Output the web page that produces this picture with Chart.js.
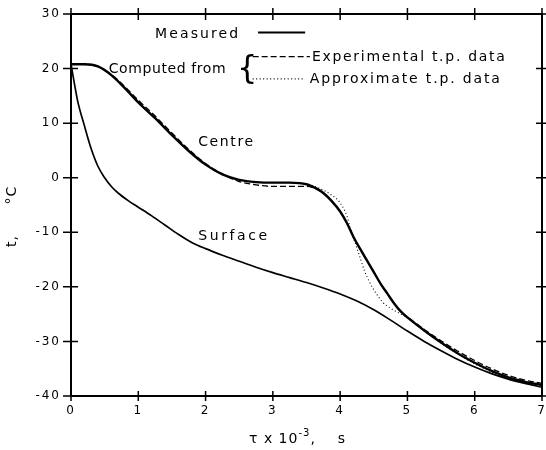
<!DOCTYPE html>
<html>
<head>
<meta charset="utf-8">
<script src="https://cdn.jsdelivr.net/npm/chart.js@4.4.1/dist/chart.umd.min.js"></script>
<style>
  body { margin: 0; background: #fff; }
  canvas { display: block; }
</style>
</head>
<body>
<canvas id="chart" width="546" height="450"></canvas>
<script>
// time in units of 10^3 s, temperature in degC
const timeSurface = [0, 0.05, 0.1, 0.2, 0.3, 0.4, 0.5, 0.6, 0.7, 0.85, 1.0, 1.2, 1.4, 1.6, 1.8, 2.0, 2.25, 2.5, 2.75, 3.0, 3.25, 3.5, 3.75, 4.0, 4.25, 4.5, 4.75, 5.0, 5.25, 5.5, 5.75, 6.0, 6.25, 6.5, 6.75, 7.0];
const tempSurface = [20.8, 17.3, 14.0, 9.5, 5.3, 2.1, 0.0, -1.6, -2.8, -4.2, -5.4, -7.0, -8.7, -10.4, -11.9, -13.0, -14.2, -15.3, -16.4, -17.4, -18.3, -19.2, -20.2, -21.3, -22.6, -24.2, -26.1, -28.1, -30.0, -31.7, -33.3, -34.7, -35.9, -36.9, -37.7, -38.4];

const timeCentre = [0, 0.2, 0.4, 0.6, 0.8, 1.0, 1.25, 1.5, 1.75, 2.0, 2.25, 2.5, 2.75, 3.0, 3.25, 3.5, 3.65, 3.75, 3.875, 4.0, 4.1, 4.2, 4.3, 4.4, 4.5, 4.6, 4.7, 4.8, 4.9, 5.0, 5.25, 5.5, 5.75, 6.0, 6.25, 6.5, 6.75, 7.0];
const tempCentre = [20.8, 20.8, 20.4, 18.8, 16.4, 13.8, 10.9, 7.8, 4.9, 2.4, 0.6, -0.4, -0.8, -0.9, -0.9, -1.2, -2.0, -2.8, -4.3, -6.2, -8.3, -10.9, -13.1, -15.2, -17.3, -19.4, -21.2, -23.0, -24.5, -25.6, -28.0, -30.2, -32.2, -33.9, -35.4, -36.6, -37.4, -38.0];

const timeExperimental = [0, 0.2, 0.4, 0.6, 0.8, 1.0, 1.25, 1.5, 1.75, 2.0, 2.25, 2.5, 2.75, 3.0, 3.25, 3.5, 3.65, 3.75, 3.875, 4.0, 4.1, 4.2, 4.3, 4.4, 4.5, 4.6, 4.7, 4.8, 4.9, 5.0, 5.25, 5.5, 5.75, 6.0, 6.25, 6.5, 6.75, 7.0];
const tempExperimental = [20.8, 20.8, 20.4, 18.9, 16.7, 14.2, 11.3, 8.2, 5.2, 2.6, 0.7, -0.7, -1.3, -1.6, -1.6, -1.6, -2.1, -2.8, -4.3, -6.2, -8.3, -10.9, -13.1, -15.2, -17.3, -19.4, -21.2, -23.0, -24.5, -25.5, -27.8, -29.9, -31.8, -33.5, -35.0, -36.2, -37.1, -37.7];

const timeApprox = [0, 0.2, 0.4, 0.6, 0.8, 1.0, 1.25, 1.5, 1.75, 2.0, 2.25, 2.5, 2.75, 3.0, 3.25, 3.5, 3.7, 3.85, 4.0, 4.1, 4.15, 4.22, 4.29, 4.36, 4.44, 4.54, 4.64, 4.76, 4.89, 5.0, 5.25, 5.5, 5.75, 6.0, 6.25, 6.5, 6.75, 7.0];
const tempApprox = [20.8, 20.8, 20.4, 18.8, 16.4, 13.8, 10.9, 7.8, 4.9, 2.4, 0.6, -0.4, -0.8, -0.9, -0.9, -1.1, -2.0, -3.0, -4.6, -7.0, -9.2, -11.8, -14.4, -17.0, -19.2, -21.3, -22.9, -24.0, -24.9, -25.7, -28.1, -30.3, -32.3, -34.1, -35.6, -36.8, -37.7, -38.3];

const xTicks = [0, 1, 2, 3, 4, 5, 6, 7];
const yTicks = [-40, -30, -20, -10, 0, 10, 20, 30];

// text inside the plot: [text, x, y, width in px]
const notes = [
    ['Measured', 1.25, 26.3, 83],
    ['Computed from', 0.56, 19.8, 117],
    ['Experimental t.p. data', 3.58, 22.1, 193],
    ['Approximate t.p. data', 3.55, 18.0, 190],
    ['Centre', 1.89, 6.4, 55],
    ['Surface', 1.89, -10.8, 69]
];
// legend line samples: [x from, x to, y, dash]
const keys = [
    [2.78, 3.48, 26.6, []],
    [2.70, 3.55, 22.2, [6, 3]],
    [2.70, 3.45, 18.1, [1, 2.5]]
];

function pts(xs, ys) {
    return xs.map(function(v, i) { return {x: v, y: ys[i]}; });
}

Chart.defaults.font.family = "'DejaVu Sans', sans-serif";
Chart.defaults.color = '#000';

const framePlugin = {
    id: 'frame',
    beforeDraw(chart) {
        chart.ctx.letterSpacing = '2px';
    },
    afterDraw(chart) {
        const ctx = chart.ctx;
        const a = chart.chartArea;
        const x = chart.scales.x;
        const y = chart.scales.y;
        ctx.save();
        ctx.letterSpacing = '0px';
        ctx.strokeStyle = '#000';
        ctx.fillStyle = '#000';
        ctx.setLineDash([]);

        // box
        ctx.lineWidth = 2;
        ctx.strokeRect(a.left, a.top, a.right - a.left, a.bottom - a.top);

        // tick marks crossing every side
        ctx.lineWidth = 1.5;
        ctx.beginPath();
        xTicks.forEach(function(v) {
            const px = x.getPixelForValue(v);
            ctx.moveTo(px, a.bottom - 5); ctx.lineTo(px, a.bottom + 5);
            ctx.moveTo(px, a.top - 6); ctx.lineTo(px, a.top + 6);
        });
        yTicks.forEach(function(v) {
            const py = y.getPixelForValue(v);
            ctx.moveTo(a.left - 8, py); ctx.lineTo(a.left + 7, py);
            ctx.moveTo(a.right - 6, py); ctx.lineTo(a.right + 6, py);
        });
        ctx.stroke();

        // legend samples
        keys.forEach(function(k) {
            ctx.beginPath();
            ctx.lineWidth = k[3].length ? 1.3 : 2;
            ctx.setLineDash(k[3]);
            ctx.moveTo(x.getPixelForValue(k[0]), y.getPixelForValue(k[2]));
            ctx.lineTo(x.getPixelForValue(k[1]), y.getPixelForValue(k[2]));
            ctx.stroke();
        });
        ctx.setLineDash([]);

        // notes, spread to their width in the figure
        ctx.font = "14px 'DejaVu Sans'";
        ctx.textBaseline = 'middle';
        ctx.textAlign = 'left';
        notes.forEach(function(n) {
            ctx.letterSpacing = '0px';
            const w = ctx.measureText(n[0]).width;
            const sp = (n[3] - w) / (n[0].length - 1);
            ctx.letterSpacing = sp.toFixed(2) + 'px';
            ctx.fillText(n[0], x.getPixelForValue(n[1]), y.getPixelForValue(n[2]));
        });

        // brace
        ctx.letterSpacing = '0px';
        ctx.font = "32px 'DejaVu Sans'";
        ctx.textAlign = 'center';
        ctx.fillText('{', x.getPixelForValue(2.62), y.getPixelForValue(19.8));

        // x axis title
        ctx.textBaseline = 'alphabetic';
        ctx.textAlign = 'left';
        ctx.letterSpacing = '1px';
        ctx.font = "14px 'DejaVu Sans'";
        let tx = 249;
        const base = 443;
        ctx.fillText('\u03c4 x 10', tx, base);
        tx += ctx.measureText('\u03c4 x 10').width;
        ctx.font = "10px 'DejaVu Sans'";
        ctx.fillText('-3', tx, base - 7);
        tx += ctx.measureText('-3').width;
        ctx.font = "14px 'DejaVu Sans'";
        ctx.fillText(',    s', tx, base);

        // y axis title, rotated
        ctx.translate(12, 0);
        ctx.rotate(-Math.PI / 2);
        ctx.textAlign = 'center';
        ctx.textBaseline = 'middle';
        ctx.fillText('t,', -241, 0);
        ctx.fillText('\u00b0C', -195, 0);
        ctx.restore();
    }
};

new Chart(document.getElementById('chart'), {
    type: 'line',
    data: {
        datasets: [
            {
                label: 'Centre, measured',
                data: pts(timeCentre, tempCentre),
                borderColor: '#000',
                borderWidth: 2.4
            },
            {
                label: 'Surface, measured',
                data: pts(timeSurface, tempSurface),
                borderColor: '#000',
                borderWidth: 1.7
            },
            {
                label: 'Experimental t.p. data',
                data: pts(timeExperimental, tempExperimental),
                borderColor: '#000',
                borderWidth: 1.3,
                borderDash: [6, 3]
            },
            {
                label: 'Approximate t.p. data',
                data: pts(timeApprox, tempApprox),
                borderColor: '#000',
                borderWidth: 1.1,
                borderDash: [1, 2.5]
            }
        ]
    },
    options: {
        responsive: false,
        animation: false,
        devicePixelRatio: 1,
        layout: { padding: { top: 14, right: 4, left: 0, bottom: 0 } },
        elements: {
            point: { radius: 0 },
            line: { cubicInterpolationMode: 'monotone', fill: false }
        },
        plugins: {
            legend: { display: false },
            tooltip: { enabled: false }
        },
        scales: {
            x: {
                type: 'linear',
                min: 0,
                max: 7,
                afterFit: function(s) { s.height = 54; s.paddingLeft = 0; s.paddingRight = 0; },
                afterBuildTicks: function(s) { s.ticks = xTicks.map(function(v) { return {value: v}; }); },
                grid: { display: false, drawTicks: false },
                border: { display: false },
                ticks: { padding: 8, font: { size: 12 } }
            },
            y: {
                type: 'linear',
                min: -40,
                max: 30,
                afterFit: function(s) { s.width = 71; s.paddingTop = 0; s.paddingBottom = 0; },
                afterBuildTicks: function(s) { s.ticks = yTicks.map(function(v) { return {value: v}; }); },
                grid: { display: false, drawTicks: false },
                border: { display: false },
                ticks: { padding: 10, font: { size: 12 } }
            }
        }
    },
    plugins: [framePlugin]
});
</script>
</body>
</html>
